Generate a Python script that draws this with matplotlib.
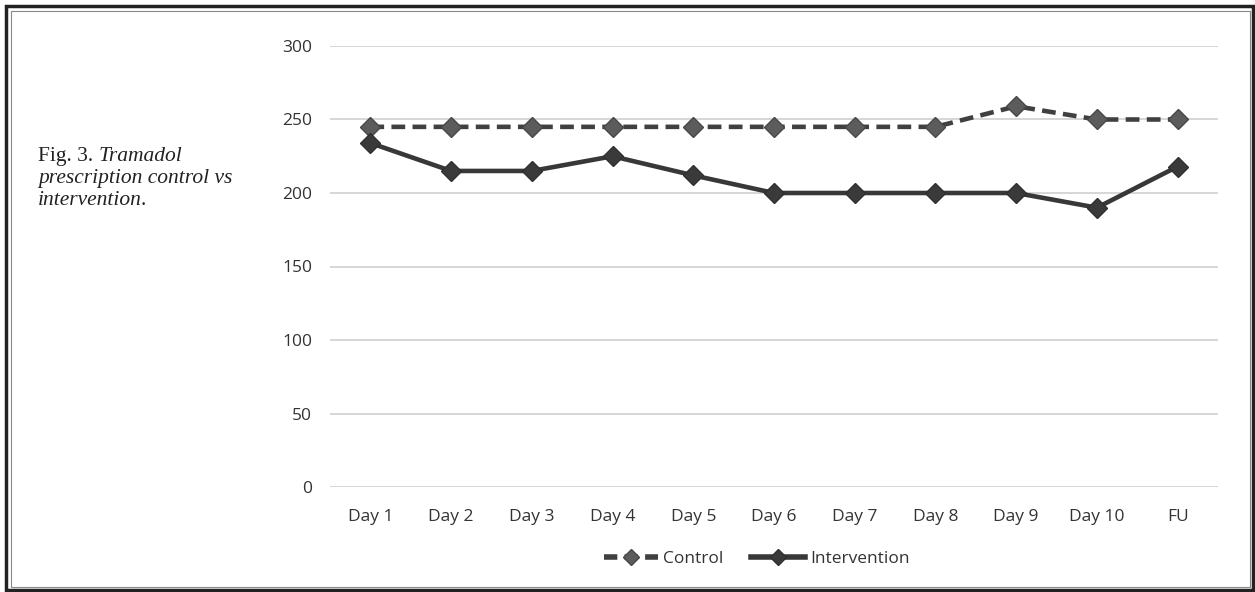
import matplotlib.pyplot as plt
from matplotlib.patches import Rectangle
from matplotlib.lines import Line2D

days = ['Day 1', 'Day 2', 'Day 3', 'Day 4', 'Day 5', 'Day 6', 'Day 7', 'Day 8', 'Day 9', 'Day 10', 'FU']
control = [245, 245, 245, 245, 245, 245, 245, 245, 259, 250, 250]
intervention = [234, 215, 215, 225, 212, 200, 200, 200, 200, 190, 218]
yticks = [0, 50, 100, 150, 200, 250, 300]

plt.rcParams['font.family'] = ['Open Sans', 'DejaVu Sans']

fig = plt.figure(figsize=(12.55, 5.92), dpi=100)
W, H = 1255, 592
ax = fig.add_axes([330 / W, 105 / H, 888 / W, 441 / H])

x = list(range(len(days)))
ax.plot(x, control, color='#404040', lw=3.3, ls=(0, (3.0, 1.6)), dash_capstyle='butt',
        marker='D', ms=10.5, mfc='#5c5c5c', mec='#484848', mew=1, label='Control', zorder=3)
ax.plot(x, intervention, color='#383838', lw=3.3,
        marker='D', ms=10.5, mfc='#3a3a3a', mec='#303030', mew=1, label='Intervention', zorder=4)

ax.set_xlim(-0.5, len(days) - 0.5)
ax.set_ylim(0, 300)
ax.set_yticks(yticks)
ax.set_xticks(x)
ax.set_xticklabels(days)
ax.grid(axis='y', color='#d0d0d0', lw=1.2)
ax.set_axisbelow(True)
for s in ax.spines.values():
    s.set_visible(False)
ax.tick_params(length=0, labelsize=12.5, labelcolor='#333333')
ax.tick_params(axis='y', pad=13)
ax.tick_params(axis='x', pad=16)

leg = fig.legend(handles=[
    Line2D([], [], color='#404040', lw=4, ls=(0, (2.4, 1.3)), dash_capstyle='butt',
           marker='D', ms=8, mfc='#5c5c5c', mec='#484848'),
    Line2D([], [], color='#383838', lw=4, marker='D', ms=8, mfc='#3a3a3a', mec='#303030')],
    labels=['Control', 'Intervention'], loc='center', bbox_to_anchor=(757 / W, 1 - 559 / H),
    ncol=2, frameon=False, fontsize=12.5, handlelength=3.1, handletextpad=0.3, columnspacing=1.6)
for t in leg.get_texts():
    t.set_color('#333333')

# double frame
fig.patches.append(Rectangle((6 / W, 2 / H), 1247 / W, 584 / H, transform=fig.transFigure,
                             fill=False, ec='#222222', lw=2.5))
fig.patches.append(Rectangle((10.5 / W, 5 / H), 1239 / W, 576 / H, transform=fig.transFigure,
                             fill=False, ec='#888888', lw=0.8))

# caption, pieces placed one after another
cap = dict(family='Liberation Serif', fontsize=15.5, color='#222222', va='baseline')
renderer = fig.canvas.get_renderer()
lines = [[('Fig. 3. ', 'normal'), ('Tramadol', 'italic')],
         [('prescription control vs', 'italic')],
         [('intervention', 'italic'), ('.', 'normal')]]
for i, parts in enumerate(lines):
    xpos = 38
    for txt, st in parts:
        t = fig.text(xpos / W, 1 - (161 + 22 * i) / H, txt, style=st, **cap)
        xpos += t.get_window_extent(renderer).width - (1 if st == 'italic' else 0)

fig.savefig('out.png', dpi=100)
